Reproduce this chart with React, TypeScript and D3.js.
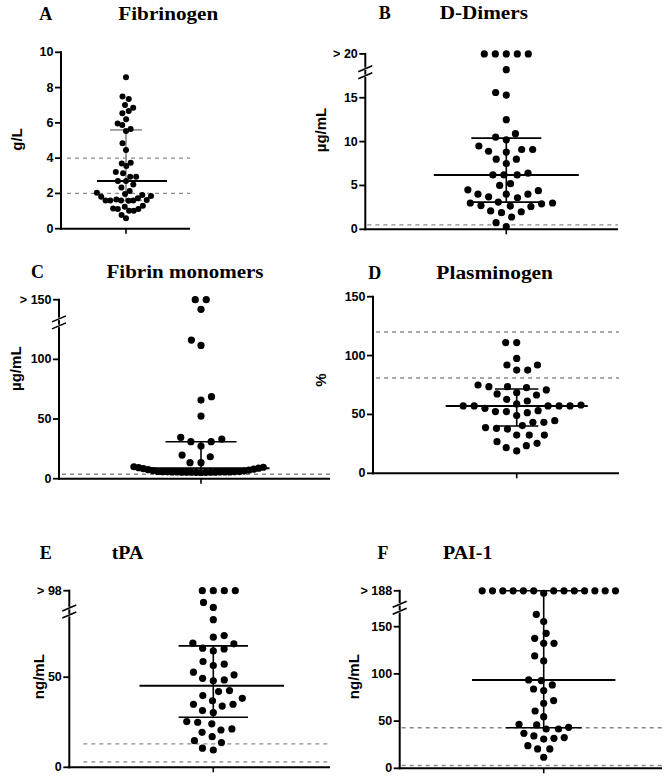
import React from "react";
import * as d3 from "d3";

// ---------- DATA ----------
const fibrinogen = [0.59, 0.78, 1.02, 1.02, 1.12, 1.12, 1.15, 1.25, 1.3, 1.59, 1.6, 1.6, 1.6, 1.6, 1.62, 1.66, 1.72, 1.81, 1.85, 1.91, 1.97, 2.04, 2.14, 2.33, 2.5, 2.7, 2.7, 2.95, 2.95, 3.14, 3.21, 3.55, 3.7, 3.74, 4.46, 4.84, 5.54, 5.65, 5.88, 5.97, 6.2, 6.54, 6.67, 6.86, 7.01, 7.35, 7.49, 8.58];
const fibrinogenStats = [1.6, 2.7, 5.6]; // q1, median, q3
const fibrinogenRefs = [2, 4];
const fibrinogenTicks = [0, 2, 4, 6, 8, 10];
const fibrinogenTickLabels = ["0", "2", "4", "6", "8", "10"];

const dDimers = [20, 20, 20, 20, 20, 18.2, 15.6, 15.3, 12.5, 10.5, 10.9, 10.2, 9.5, 9.1, 8.8, 8.9, 9.1, 8.0, 8.0, 7.5, 6.4, 6.2, 6.2, 6.2, 5.2, 5.0, 4.5, 4.0, 4.0, 3.6, 3.7, 4.0, 4.4, 3.0, 2.7, 2.6, 3.1, 2.65, 2.9, 3.0, 2.0, 1.9, 2.1, 1.4, 0.76, 0.3];
const dDimersStats = [3.1, 6.2, 10.4];
const dDimersRefs = [0.5];
const dDimersTicks = [0, 5, 10, 15, 20];
const dDimersTickLabels = ["0", "5", "10", "15", "> 20"];

const fibrinMonomersHigh = [150, 150, 141.9, 116.2, 111.7, 65.9, 68.7, 52.5, 34.6, 31, 27.4, 31, 33.2, 19.8, 18.4, 13.4, 13.4];
const fibrinMonomersLow = [5.2, 5.3, 5.3, 5.4, 5.4, 5.5, 5.5, 5.5, 5.6, 5.6, 5.6, 5.7, 5.7, 5.8, 5.8, 5.9, 6.0, 6.1, 6.4, 6.8, 7.2, 7.6, 8.0, 8.4, 8.8, 9.2, 9.6, 10.0];
const fibrinMonomersStats = [5.5, 8.7, 31];
const fibrinMonomersRefs = [3.7];
const fibrinMonomersTicks = [0, 50, 100, 150];
const fibrinMonomersTickLabels = ["0", "50", "100", "> 150"];

const plasminogen = [111, 111, 97.6, 92, 87.7, 87.7, 92, 73.6, 73.6, 68.5, 66.5, 67.4, 70.8, 72.7, 75, 62.8, 58.9, 57.2, 57.2, 57.2, 55.2, 57.2, 57.2, 58, 61.4, 52.4, 51.5, 49, 52.4, 53.2, 44.7, 43.3, 43.3, 38.8, 37.6, 38.2, 40.5, 32.5, 32.5, 32.5, 26.9, 23.5, 19, 21.8, 25.5];
const plasminogenStats = [40.2, 57.2, 71.6];
const plasminogenRefs = [81, 120];
const plasminogenTicks = [0, 50, 100, 150];
const plasminogenTickLabels = ["0", "50", "100", "150"];

const tpa = [98, 98, 98, 98, 91.5, 88.7, 81.9, 73.1, 72.2, 68.9, 66.1, 64.6, 65.7, 68.5, 58.7, 56.5, 57.2, 51.3, 52.8, 49.4, 48, 48.5, 42, 38.3, 36.9, 39.8, 42.6, 35, 31.5, 30.4, 34, 35, 25, 24.1, 25.4, 21.3, 19.4, 17, 20.7, 13.7, 14.8, 9.6, 10.6];
const tpaStats = [27.8, 45.2, 67.4];
const tpaRefs = [3, 13];
const tpaTicks = [0, 50, 98];
const tpaTickLabels = ["0", "50", "> 98"];

const pai1 = [188, 188, 188, 188, 188, 188, 188, 188, 188, 188, 188, 188, 188, 185.4, 163, 155.4, 143, 137.7, 132.4, 132.4, 119, 113.7, 92.9, 93.6, 84, 82.3, 88.3, 68.9, 71.7, 60.7, 54.7, 46.6, 41.6, 37, 41.6, 43.4, 45.9, 32.5, 31, 31.8, 34.3, 20.5, 24, 20.5, 11.7];
const pai1Stats = [43, 93.6, 188];
const pai1Refs = [3, 43];
const pai1Ticks = [0, 50, 100, 150, 188];
const pai1TickLabels = ["0", "50", "100", "150", "> 188"];

// axis break positions (value units)
const axisBreaks = { B: 17.9, C: 131, E: 86.4, F: 170 };

// ---------- LAYOUT ----------
type Group = { vals: number[]; d: number; k: number };
type Panel = {
  letter: string; title: string; unit: string;
  groups: Group[]; stats: number[]; refs: number[];
  ticks: number[]; tickLabels: string[]; brk: number | null;
  ax: number; y0: number; yTop: number; xEnd: number; cx: number;
  medHalf: number; capHalf: number; medOff: number; r: number;
  letterX: number; titleX: number; titleY: number; titleW: number;
  ylabX: number; ylabY: number; errColor: string; dashStart: number;
};

const panels: Panel[] = [
  {
    letter: "A", title: "Fibrinogen", unit: "g/L",
    groups: [{ vals: fibrinogen, d: 10, k: 0.47 }], stats: fibrinogenStats, refs: fibrinogenRefs,
    ticks: fibrinogenTicks, tickLabels: fibrinogenTickLabels, brk: null,
    ax: 61, y0: 228.7, yTop: 52.3, xEnd: 190, cx: 126,
    medHalf: 35, capHalf: 16, medOff: 6, r: 3.0,
    letterX: 45.8, titleX: 168.3, titleY: 20, titleW: 100,
    ylabX: 16, ylabY: 139.5, errColor: "#8c8c8c", dashStart: 6,
  },
  {
    letter: "B", title: "D-Dimers", unit: "µg/mL",
    groups: [{ vals: dDimers, d: 11, k: 1 }], stats: dDimersStats, refs: dDimersRefs,
    ticks: dDimersTicks, tickLabels: dDimersTickLabels, brk: axisBreaks.B,
    ax: 365.3, y0: 229.3, yTop: 53.9, xEnd: 618, cx: 506.3,
    medHalf: 72.5, capHalf: 35, medOff: 0, r: 3.6,
    letterX: 384.7, titleX: 483.8, titleY: 18.5, titleW: 88.3,
    ylabX: 320, ylabY: 130, errColor: "#000", dashStart: 2,
  },
  {
    letter: "C", title: "Fibrin monomers", unit: "µg/mL",
    groups: [{ vals: fibrinMonomersHigh, d: 11, k: 1 }, { vals: fibrinMonomersLow, d: 10, k: 0.48 }],
    stats: fibrinMonomersStats, refs: fibrinMonomersRefs,
    ticks: fibrinMonomersTicks, tickLabels: fibrinMonomersTickLabels, brk: axisBreaks.C,
    ax: 59, y0: 478.7, yTop: 299.7, xEnd: 330, cx: 201,
    medHalf: 68.5, capHalf: 35.5, medOff: 0, r: 3.6,
    letterX: 37.5, titleX: 185, titleY: 278.3, titleW: 157,
    ylabX: 15, ylabY: 368.7, errColor: "#000", dashStart: 3,
  },
  {
    letter: "D", title: "Plasminogen", unit: "%",
    groups: [{ vals: plasminogen, d: 11, k: 1 }], stats: plasminogenStats, refs: plasminogenRefs,
    ticks: plasminogenTicks, tickLabels: plasminogenTickLabels, brk: null,
    ax: 373, y0: 473.3, yTop: 296.7, xEnd: 619, cx: 516.7,
    medHalf: 71, capHalf: 21.7, medOff: 0, r: 3.6,
    letterX: 374.7, titleX: 494.7, titleY: 279.3, titleW: 116.7,
    ylabX: 320, ylabY: 380, errColor: "#000", dashStart: 3,
  },
  {
    letter: "E", title: "tPA", unit: "ng/mL",
    groups: [{ vals: tpa, d: 11, k: 1 }], stats: tpaStats, refs: tpaRefs,
    ticks: tpaTicks, tickLabels: tpaTickLabels, brk: axisBreaks.E,
    ax: 69.3, y0: 767.3, yTop: 590.7, xEnd: 330, cx: 213.3,
    medHalf: 72.3, capHalf: 34.7, medOff: -1.5, r: 3.6,
    letterX: 45.8, titleX: 127.5, titleY: 559, titleW: 31.6,
    ylabX: 38.5, ylabY: 676.7, errColor: "#000", dashStart: 14,
  },
  {
    letter: "F", title: "PAI-1", unit: "ng/mL",
    groups: [{ vals: pai1, d: 10.3, k: 1 }], stats: pai1Stats, refs: pai1Refs,
    ticks: pai1Ticks, tickLabels: pai1TickLabels, brk: axisBreaks.F,
    ax: 399.7, y0: 768.3, yTop: 590.8, xEnd: 662, cx: 543.7,
    medHalf: 71.7, capHalf: 38, medOff: 0, r: 3.6,
    letterX: 383, titleX: 467.7, titleY: 559.3, titleW: 49.3,
    ylabX: 353, ylabY: 676.7, errColor: "#000", dashStart: 2,
  },
];

// beeswarm: ascending order, elliptical collision (horizontal factor k)
function swarm(vals: number[], y: (v: number) => number, d: number, k: number) {
  const order = vals.map((_, i) => i).sort((a, b) => vals[a] - vals[b]);
  const placed: { x: number; y: number }[] = [];
  const out: { x: number; y: number; v: number }[] = new Array(vals.length);
  let flip = 1;
  for (const i of order) {
    const py = y(vals[i]);
    const cands = [0];
    for (const q of placed) {
      const dy = Math.abs(q.y - py);
      if (dy < d) {
        const dx = k * Math.sqrt(d * d - dy * dy);
        cands.push(q.x + dx, q.x - dx);
      }
    }
    cands.sort((a, b) => {
      const da = Math.abs(a) - Math.abs(b);
      if (Math.abs(da) > 1e-6) return da;
      return (a - b) * flip;
    });
    let chosen = 0;
    for (const c of cands) {
      const ok = placed.every((q) => ((c - q.x) / k) ** 2 + (py - q.y) ** 2 >= d * d - 1e-6);
      if (ok) { chosen = c; break; }
    }
    if (Math.abs(chosen) > 1e-6) flip = -flip;
    placed.push({ x: chosen, y: py });
    out[i] = { x: chosen, y: py, v: vals[i] };
  }
  return out;
}

const tickFont = "'Liberation Sans', Arial, sans-serif";
const titleFont = "'Liberation Serif', 'Times New Roman', serif";

function PanelView({ p }: { p: Panel }) {
  const top = p.ticks[p.ticks.length - 1];
  const y = d3.scaleLinear().domain([0, top]).range([p.y0, p.yTop]);
  const [q1, med, q3] = p.stats;
  const dots = p.groups.flatMap((g) => swarm(g.vals, y, g.d, g.k));
  return (
    <g>
      {/* titles */}
      <text x={p.letterX} y={p.titleY} textAnchor="middle" fontFamily={titleFont} fontWeight="bold" fontSize={18}>{p.letter}</text>
      <text x={p.titleX} y={p.titleY} textAnchor="middle" fontFamily={titleFont} fontWeight="bold" fontSize={18}
        textLength={p.titleW} lengthAdjust="spacingAndGlyphs">{p.title}</text>
      {/* y label */}
      <text transform={`translate(${p.ylabX},${p.ylabY}) rotate(-90)`} textAnchor="middle" dominantBaseline="central"
        fontFamily={tickFont} fontWeight="bold" fontSize={15}>{p.unit}</text>
      {/* reference dashed lines */}
      {p.refs.map((r, i) => (
        <line key={"ref" + i} x1={p.ax + p.dashStart} x2={p.xEnd} y1={y(r)} y2={y(r)} stroke="#8a8a8a" strokeWidth={1.4} strokeDasharray="4,4" />
      ))}
      {/* error bars */}
      <line x1={p.cx} x2={p.cx} y1={y(q1)} y2={y(q3)} stroke={p.errColor} strokeWidth={1.6} />
      <line x1={p.cx - p.capHalf} x2={p.cx + p.capHalf} y1={y(q3)} y2={y(q3)} stroke={p.errColor} strokeWidth={1.6} />
      <line x1={p.cx - p.capHalf} x2={p.cx + p.capHalf} y1={y(q1)} y2={y(q1)} stroke={p.errColor} strokeWidth={1.6} />
      {/* dots */}
      {dots.map((dt, i) => (
        <circle key={"d" + i} cx={p.cx + dt.x} cy={dt.y} r={p.r} fill="#000" />
      ))}
      {/* median */}
      <line x1={p.cx + p.medOff - p.medHalf} x2={p.cx + p.medOff + p.medHalf} y1={y(med)} y2={y(med)} stroke="#000" strokeWidth={2} />
      {/* axes */}
      <line x1={p.ax} x2={p.ax} y1={p.y0 + 1} y2={y(top) - 1} stroke="#000" strokeWidth={2} />
      <line x1={p.ax - 1} x2={p.xEnd} y1={p.y0} y2={p.y0} stroke="#000" strokeWidth={2} />
      <line x1={p.cx} x2={p.cx} y1={p.y0} y2={p.y0 + 5} stroke="#000" strokeWidth={1.6} />
      {p.ticks.map((t, i) => (
        <g key={"t" + i}>
          <line x1={p.ax - 6} x2={p.ax} y1={y(t)} y2={y(t)} stroke="#000" strokeWidth={1.8} />
          <text x={p.ax - 7.5} y={y(t)} textAnchor="end" dominantBaseline="central" fontFamily={tickFont} fontWeight="bold" fontSize={12.5}>
            {p.tickLabels[i]}
          </text>
        </g>
      ))}
      {p.brk !== null && [-3.5, 3.5].map((o, i) => (
        <g key={"b" + i}>
          <line x1={p.ax - 3} x2={p.ax + 3} y1={y(p.brk as number) + o} y2={y(p.brk as number) + o} stroke="#fff" strokeWidth={2.5} />
          <line x1={p.ax - 7} x2={p.ax + 7} y1={y(p.brk as number) + o + 3} y2={y(p.brk as number) + o - 3} stroke="#000" strokeWidth={1.6} />
        </g>
      ))}
    </g>
  );
}

export default function App() {
  return (
    <svg width={666} height={781} style={{ position: "absolute", left: 0, top: 0, background: "#fff" }}>
      <rect x={0} y={0} width={666} height={781} fill="#fff" />
      {panels.map((p) => (
        <PanelView key={p.letter} p={p} />
      ))}
    </svg>
  );
}
